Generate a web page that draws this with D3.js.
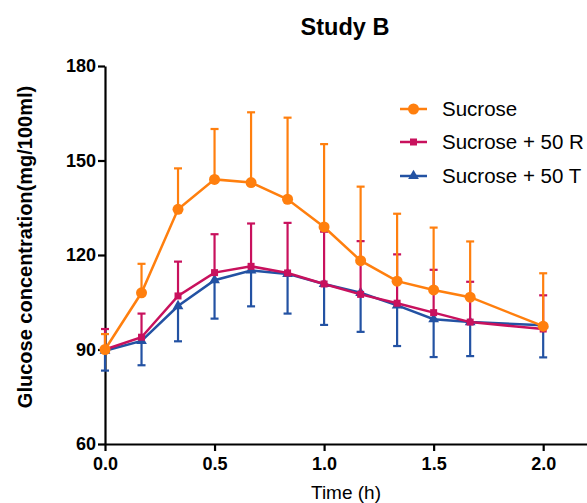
<!DOCTYPE html>
<html><head><meta charset="utf-8">
<script src="https://cdn.jsdelivr.net/npm/d3@7"></script>
<style>body{margin:0;background:#fff;} svg{display:block;}</style>
</head><body>
<svg id="c" width="587" height="503"></svg>
<script>
const times = [0, 0.1667, 0.3333, 0.5, 0.6667, 0.8333, 1.0, 1.1667, 1.3333, 1.5, 1.6667, 2.0];
const sucroseMean = [90, 108, 134.5, 144.0, 143.0, 137.7, 128.9, 118.2, 111.7, 108.9, 106.6, 97.4];
const sucroseUpper = [94.9, 117.2, 147.5, 160.0, 165.3, 163.6, 155.2, 141.7, 133.1, 128.7, 124.3, 114.2];
const rMean = [90, 93.9, 107.0, 114.4, 116.4, 114.3, 110.8, 107.5, 104.7, 101.7, 98.7, 96.5];
const rUpper = [96.5, 101.4, 117.9, 126.6, 130.0, 130.2, 127.4, 124.4, 120.2, 115.3, 111.5, 107.2];
const tMean = [89.6, 92.7, 103.8, 112.0, 115.1, 114.0, 110.8, 108.0, 104.0, 99.6, 98.7, 97.7];
const tLower = [83.3, 85.0, 92.6, 99.8, 103.7, 101.4, 97.8, 95.6, 91.1, 87.6, 87.9, 87.5];
const yTicks = [60, 90, 120, 150, 180];
const xTicks = [0, 0.5, 1.0, 1.5, 2.0];
const seriesNames = ["Sucrose", "Sucrose + 50 R", "Sucrose + 50 T"];

const series = [
  {name: seriesNames[0], mean: sucroseMean, bar: sucroseUpper, color: "#ff7f0e", shape: "circle"},
  {name: seriesNames[1], mean: rMean, bar: rUpper, color: "#c8115d", shape: "square"},
  {name: seriesNames[2], mean: tMean, bar: tLower, color: "#2352a3", shape: "triangle"}
];

const svg = d3.select("#c");
const x = d3.scaleLinear().domain([0, 2.2]).range([105, 587]);
const y = d3.scaleLinear().domain([60, 180]).range([444, 66]);
const font = "Liberation Sans, Arial, sans-serif";

// Title
svg.append("text").attr("x", 345).attr("y", 35).attr("text-anchor", "middle")
  .style("font-family", font).style("font-weight", "bold")
  .style("font-size", "23.5px").text("Study B");

// Axes
const yAxis = svg.append("g").attr("transform", "translate(105,0)")
  .call(d3.axisLeft(y).tickValues(yTicks).tickSize(7).tickSizeOuter(0).tickPadding(2));
const xAxis = svg.append("g").attr("transform", "translate(0,444)")
  .call(d3.axisBottom(x).tickValues(xTicks).tickFormat(d3.format(".1f")).tickSize(7).tickSizeOuter(0).tickPadding(6));
[yAxis, xAxis].forEach(a => {
  a.selectAll("path,line").attr("stroke", "#000").attr("stroke-width", 2.2);
  a.selectAll("text").style("font-family", font).style("font-weight", "bold").style("font-size", "18px").attr("fill", "#000");
});

svg.append("text").attr("x", 346).attr("y", 499).attr("text-anchor", "middle")
  .style("font-family", font).style("font-size", "19px").text("Time (h)");
svg.append("text").attr("transform", "translate(32,247) rotate(-90)").attr("text-anchor", "middle")
  .style("font-family", font).style("font-weight", "bold").style("font-size", "20px")
  .text("Glucose concentration(mg/100ml)");

const line = d3.line().x(d => x(d[0])).y(d => y(d[1]));

function marker(g, shape, cx, cy, color) {
  if (shape === "circle") g.append("circle").attr("cx", cx).attr("cy", cy).attr("r", 5.5).attr("fill", color);
  else if (shape === "square") g.append("rect").attr("x", cx - 3.5).attr("y", cy - 3.5).attr("width", 7).attr("height", 7).attr("fill", color);
  else g.append("path").attr("d", d3.symbol().type(d3.symbolTriangle).size(50)()).attr("transform", `translate(${cx},${cy})`).attr("fill", color);
}

const order = [2, 1, 0];
order.forEach(i => {
  const s = series[i];
  const g = svg.append("g");
  times.forEach((t, j) => {
    const px = x(t);
    g.append("line").attr("x1", px).attr("x2", px).attr("y1", y(s.mean[j])).attr("y2", y(s.bar[j]))
      .attr("stroke", s.color).attr("stroke-width", 2.2);
    g.append("line").attr("x1", px - 4).attr("x2", px + 4).attr("y1", y(s.bar[j])).attr("y2", y(s.bar[j]))
      .attr("stroke", s.color).attr("stroke-width", 2.2);
  });
  g.append("path").datum(times.map((t, j) => [t, s.mean[j]])).attr("d", line)
    .attr("fill", "none").attr("stroke", s.color).attr("stroke-width", 2.5);
  times.forEach((t, j) => marker(g, s.shape, x(t), y(s.mean[j]), s.color));
});

// Legend
const legY = [109, 142, 176];
series.forEach((s, i) => {
  const g = svg.append("g");
  g.append("line").attr("x1", 400).attr("x2", 427).attr("y1", legY[i]).attr("y2", legY[i])
    .attr("stroke", s.color).attr("stroke-width", 2.5);
  marker(g, s.shape, 413.5, legY[i], s.color);
  g.append("text").attr("x", 442).attr("y", legY[i] + 7).style("font-family", font)
    .style("font-size", "20.5px").text(s.name);
});
</script>
</body></html>
